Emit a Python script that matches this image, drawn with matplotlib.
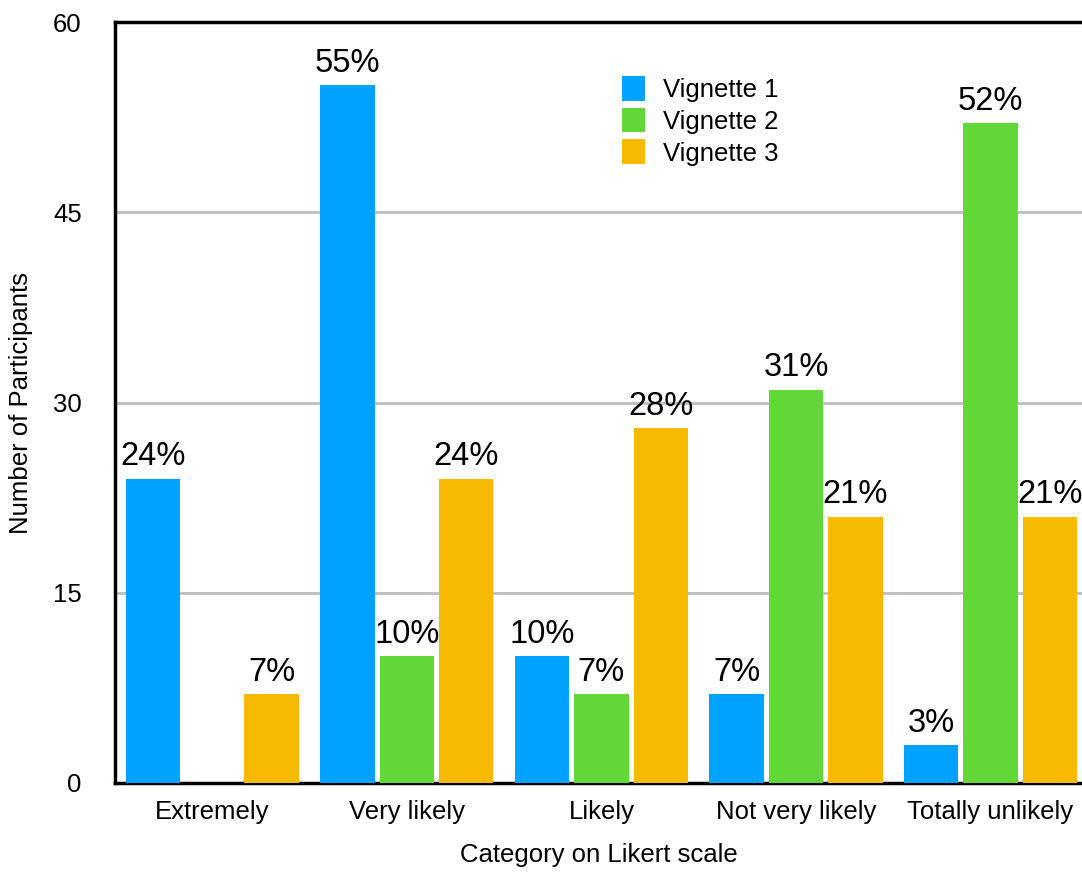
import numpy as np
import matplotlib.pyplot as plt

categories = ['Extremely', 'Very likely', 'Likely', 'Not very likely', 'Totally unlikely']
series = ['Vignette 1', 'Vignette 2', 'Vignette 3']
v1 = [24, 55, 10, 7, 3]
v2 = [0, 10, 7, 31, 52]
v3 = [7, 24, 28, 21, 21]
colors = ['#00a2ff', '#61d836', '#f8ba00']

plt.rcParams['font.family'] = ['Liberation Sans', 'DejaVu Sans']

fig = plt.figure(figsize=(10.82, 8.73), dpi=100)
ax = fig.add_axes([115 / 1082, 1 - 783 / 873, 1 - 115 / 1082, (783 - 22) / 873])

x = np.arange(len(categories))
w = 0.28
off = 0.305
for i, (vals, name) in enumerate(zip([v1, v2, v3], series)):
    pos = x + (i - 1) * off
    ax.bar(pos, vals, width=w, color=colors[i], label=name, zorder=3)
    for p, v in zip(pos, vals):
        if v > 0:
            ax.text(p, v + 0.5, '{}%'.format(v), ha='center', va='bottom',
                    fontsize=23.5, zorder=4)

ax.set_ylim(0, 60)
ax.set_xlim(-0.5, 4.47)
ax.set_yticks([0, 15, 30, 45, 60])
ax.set_xticks(x)
ax.set_xticklabels(categories)
ax.tick_params(axis='both', length=0, labelsize=18.5)
ax.tick_params(axis='y', pad=24)
ax.tick_params(axis='x', pad=12)
ax.yaxis.grid(True, color='#bdbdbd', linewidth=2, zorder=0)
ax.set_axisbelow(True)

for s in ['left', 'bottom', 'top']:
    ax.spines[s].set_linewidth(2.5)
    ax.spines[s].set_color('black')
ax.spines['right'].set_visible(False)

ax.set_ylabel('Number of Participants', fontsize=18.5, labelpad=14)
ax.set_xlabel('Category on Likert scale', fontsize=18.5, labelpad=14)

ax.legend(loc='upper left', bbox_to_anchor=(622 / 1082, 1 - 76 / 873),
          bbox_transform=fig.transFigure, frameon=False, fontsize=18.5,
          handlelength=0.9, handleheight=1.1, handletextpad=0.7,
          labelspacing=0.22, borderpad=0, borderaxespad=0)

fig.savefig('out.png', dpi=100)
